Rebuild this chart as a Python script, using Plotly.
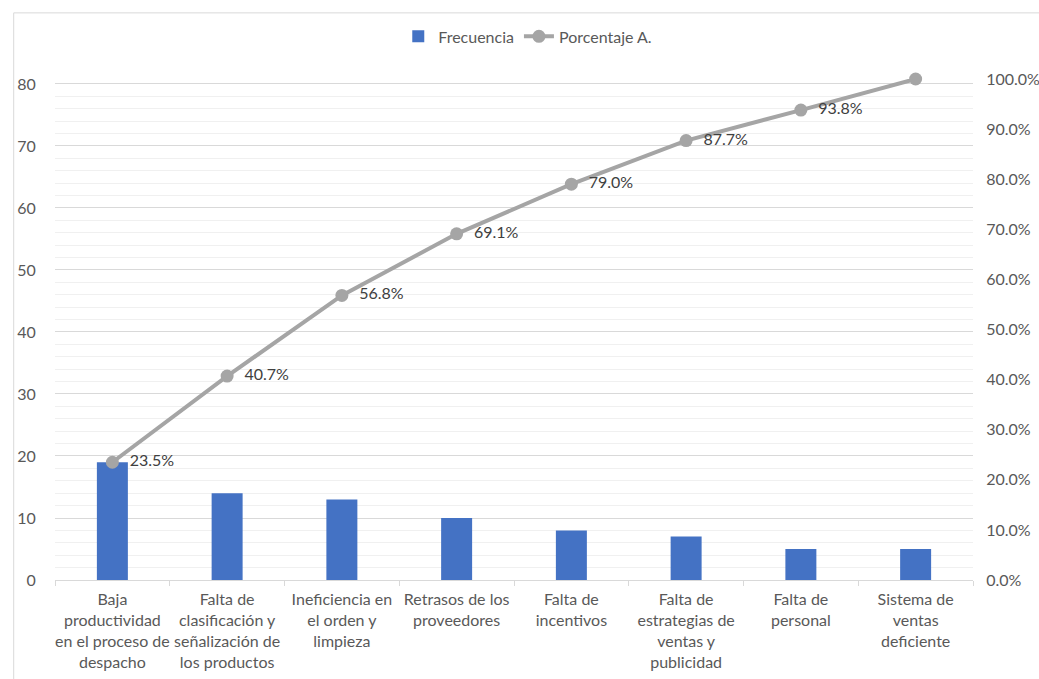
import plotly.graph_objects as go

categorias = [
    "Baja<br>productividad<br>en el proceso de<br>despacho",
    "Falta de<br>clasificación y<br>señalización de<br>los productos",
    "Ineficiencia en<br>el orden y<br>limpieza",
    "Retrasos de los<br>proveedores",
    "Falta de<br>incentivos",
    "Falta de<br>estrategias de<br>ventas y<br>publicidad",
    "Falta de<br>personal",
    "Sistema de<br>ventas<br>deficiente",
]
frecuencia = [19, 14, 13, 10, 8, 7, 5, 5]
porcentaje = [0.235, 0.407, 0.568, 0.691, 0.790, 0.877, 0.938, 1.000]
etiquetas = ["23.5%", "40.7%", "56.8%", "69.1%", "79.0%", "87.7%", "93.8%", ""]

FONT = "Lato, Carlito, Calibri, sans-serif"
GRAY_TXT = "#595959"
FS = 16

fig = go.Figure()
fig.add_trace(go.Bar(
    x=categorias, y=frecuencia, name="Frecuencia",
    marker=dict(color="#4472C4", line=dict(width=0)),
    yaxis="y",
))
fig.add_trace(go.Scatter(
    x=categorias, y=porcentaje, name="Porcentaje A.",
    mode="lines+markers+text",
    line=dict(color="#A5A5A5", width=4),
    marker=dict(color="#A5A5A5", size=13),
    text=etiquetas, texttemplate="  %{text}", textposition="middle right",
    textfont=dict(family=FONT, size=FS, color="#404040"),
    yaxis="y2", cliponaxis=False,
))

fig.update_layout(
    width=1039, height=679,
    margin=dict(l=55, r=66, t=79, b=99),
    paper_bgcolor="white", plot_bgcolor="white",
    font=dict(family=FONT, size=FS, color=GRAY_TXT),
    bargap=0.73,
    showlegend=True,
    legend=dict(orientation="h", x=0.515, xanchor="center", y=1.085, yanchor="middle",
                font=dict(family=FONT, size=FS, color=GRAY_TXT), traceorder="normal"),
    xaxis=dict(
        showgrid=False, showline=True, linecolor="#D9D9D9", linewidth=1,
        ticks="outside", tickson="boundaries", ticklen=5, tickcolor="#D9D9D9",
        tickfont=dict(family=FONT, size=FS, color=GRAY_TXT),
        tickangle=0, ticklabelstandoff=5, automargin=False,
    ),
    yaxis=dict(
        range=[0, 80.8], dtick=10, tick0=0,
        showgrid=True, gridcolor="#D9D9D9", gridwidth=1,
        minor=dict(dtick=2, tick0=0, showgrid=True, gridcolor="#F0F0F0", gridwidth=1),
        zeroline=False, showline=False,
        ticks="outside", ticklen=15, tickcolor="rgba(0,0,0,0)",
        tickfont=dict(family=FONT, size=FS, color=GRAY_TXT),
        automargin=False,
    ),
    yaxis2=dict(
        range=[0, 1.0], dtick=0.1, tick0=0, tickformat=".1%",
        overlaying="y", side="right",
        showgrid=False, zeroline=False, showline=False,
        ticks="outside", ticklen=9, tickcolor="rgba(0,0,0,0)",
        tickfont=dict(family=FONT, size=FS, color=GRAY_TXT),
        automargin=False,
    ),
    shapes=[dict(type="rect", xref="paper", yref="paper",
                 x0=-0.045, x1=1.2, y0=-0.3, y1=1.132,
                 line=dict(color="#D9D9D9", width=1), layer="below")],
)

fig.write_html("out.html")
